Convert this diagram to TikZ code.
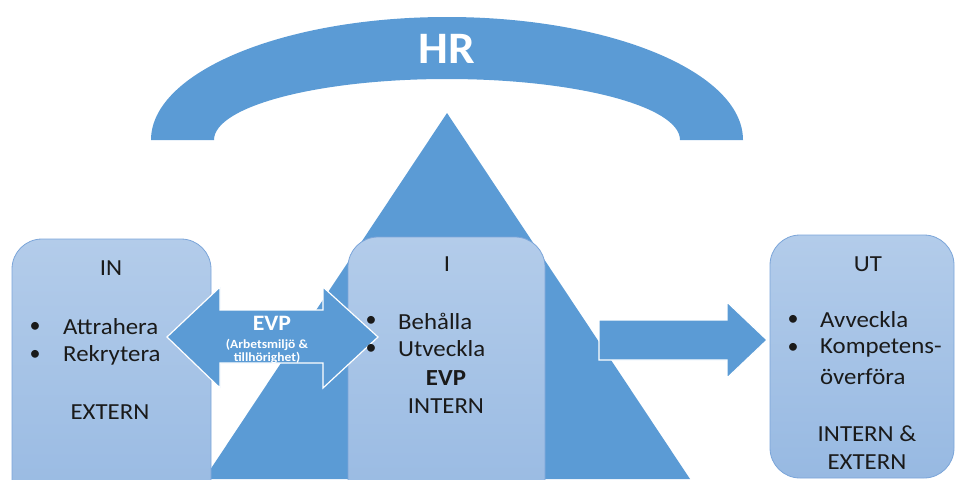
\documentclass[tikz,border=0pt]{standalone}
\usepackage{fontspec}
\setmainfont{Carlito}
\definecolor{mblue}{HTML}{5B9BD5}
\definecolor{boxtop}{HTML}{B3CCEA}
\definecolor{boxbot}{HTML}{97B9E2}
\definecolor{boxline}{HTML}{7BA5D9}
\definecolor{txt}{HTML}{1A1A1A}
\tikzset{
  panel/.style={draw=boxline, line width=0.8pt, rounded corners=30pt, top color=boxtop, bottom color=boxbot, shading angle=0},
  shape blue/.style={fill=mblue, draw=none},
  blockarrow/.style={fill=mblue, draw=white, line width=1.2pt},
  bodytxt/.style={font=\fontsize{23}{26}\selectfont, text=txt, inner sep=0pt, xscale=1.08},
  bul/.style={font=\fontsize{22}{26}\selectfont, text=txt, inner sep=0pt},
}
\begin{document}
\begin{tikzpicture}[x=1pt,y=-1pt]
\useasboundingbox (0,0) rectangle (957,479);
\begin{scope}
\clip (0,0) rectangle (957,479);
% arch
\path[shape blue] (151,140) arc[start angle=180,end angle=360,x radius=296,y radius=123]
  -- (680,140) arc[start angle=0,end angle=-180,x radius=233,y radius=61] -- cycle;
\node[font=\bfseries\fontsize{45}{48}\selectfont, text=white, inner sep=0pt, xscale=1.05] (hr) at (447,49) {HR};
% triangle
\coordinate (apex) at (447,113);
\path[shape blue] (apex) -- (690,479) -- (204,479) -- cycle;
% boxes
\path[panel] (12,239) rectangle (211,520);
\path[panel] (348,237) rectangle (545,520);
\path[panel] (770,235) rectangle (954,478);
% double arrow
\path[blockarrow] (167,337) -- (220,287) -- (220,310) -- (323,310) -- (323,287) -- (378,337)
  -- (323,388) -- (323,363) -- (220,363) -- (220,388) -- cycle;
\node[font=\bfseries\fontsize{22}{24}\selectfont, text=white, inner sep=0pt, xscale=1.08] (evp) at (272,323) {EVP};
\node[font=\bfseries\fontsize{12.5}{13}\selectfont, text=white, inner sep=0pt, align=center, xscale=1.08] (evpsub) at (267,351) {(Arbetsmiljö \&\\tillhörighet)};
% right arrow
\path[blockarrow] (599,320) -- (727,320) -- (727,302) -- (767,340) -- (727,378) -- (727,360) -- (599,360) -- cycle;
\end{scope}
% IN box text
\node[bodytxt] (in) at (111,268) {IN};
\node[bul] (b1) at (35,327) {•};
\node[bodytxt, anchor=west] (t1) at (63,327) {Attrahera};
\node[bul] (b2) at (35,355) {•};
\node[bodytxt, anchor=west] (t2) at (63,355) {Rekrytera};
\node[bodytxt] (ext) at (110,412) {EXTERN};
% I box text
\node[bodytxt] (i) at (447,264) {I};
\node[bul] (b3) at (371,321) {•};
\node[bodytxt, anchor=west] (t3) at (398,321) {Behålla};
\node[bul] (b4) at (371,349) {•};
\node[bodytxt, anchor=west] (t4) at (398,349) {Utveckla};
\node[bodytxt, font=\bfseries\fontsize{23}{26}\selectfont] (evpi) at (446,378) {EVP};
\node[bodytxt] (int) at (446,406) {INTERN};
% UT box text
\node[bodytxt] (ut) at (868,264) {UT};
\node[bul] (b5) at (793,320) {•};
\node[bodytxt, anchor=west] (t5) at (820,320) {Avveckla};
\node[bul] (b6) at (793,348) {•};
\node[bodytxt, anchor=west] (t6) at (820,348) {Kompetens-};
\node[bodytxt, anchor=west] (t7) at (820,377) {överföra};
\node[bodytxt] (ie1) at (867,434) {INTERN \&};
\node[bodytxt] (ie2) at (867,462) {EXTERN};
\end{tikzpicture}
\end{document}
